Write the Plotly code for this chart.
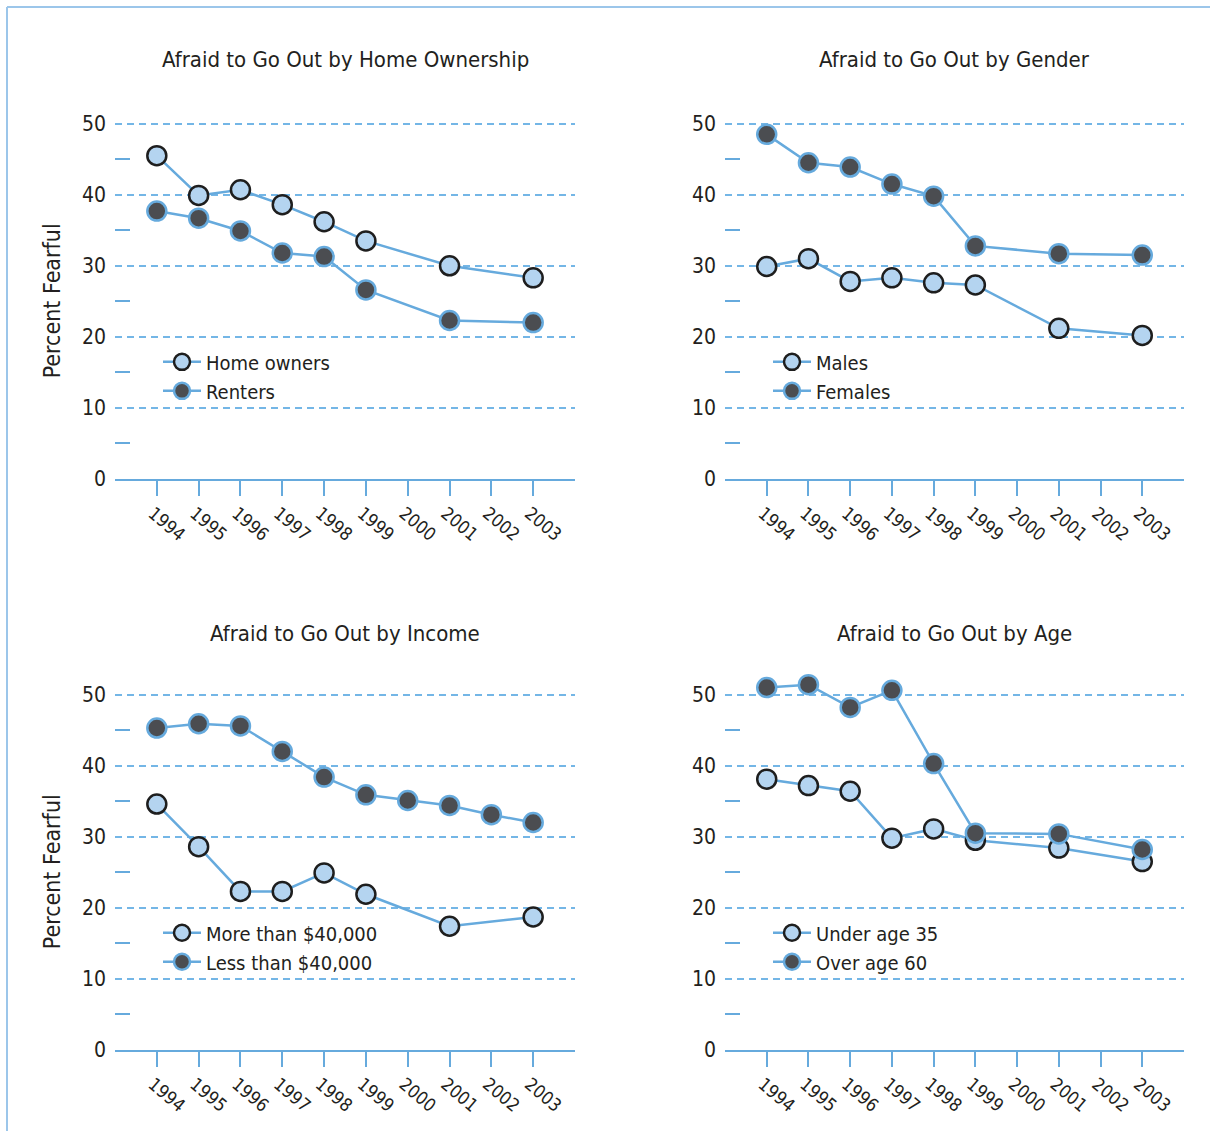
import plotly.graph_objects as go

W, H = 1210, 1143

years8 = [1994, 1995, 1996, 1997, 1998, 1999, 2001, 2003]
years10 = [1994, 1995, 1996, 1997, 1998, 1999, 2000, 2001, 2002, 2003]
tick_years = [1994, 1995, 1996, 1997, 1998, 1999, 2000, 2001, 2002, 2003]

home_owners = [45.5, 39.9, 40.7, 38.6, 36.2, 33.5, 30.0, 28.3]
renters = [37.7, 36.7, 34.9, 31.8, 31.3, 26.6, 22.3, 22.0]

males = [29.9, 31.0, 27.8, 28.3, 27.6, 27.3, 21.2, 20.2]
females = [48.5, 44.5, 43.9, 41.5, 39.8, 32.8, 31.7, 31.5]

more_40k = [34.6, 28.6, 22.3, 22.3, 24.9, 21.9, 17.4, 18.7]
less_40k = [45.3, 45.9, 45.6, 42.0, 38.4, 35.9, 35.1, 34.4, 33.1, 32.0]

under_35 = [38.1, 37.2, 36.4, 29.8, 31.1, 29.5, 28.4, 26.5]
over_60 = [51.0, 51.4, 48.2, 50.6, 40.3, 30.5, 30.4, 28.2]

titles = ["Afraid to Go Out by Home Ownership", "Afraid to Go Out by Gender",
          "Afraid to Go Out by Income", "Afraid to Go Out by Age"]
y_title = "Percent Fearful"

BLUE = "#66AADD"
GRID = "#74B6E6"
LIGHT = "#B4D4F0"
DARK = "#4B4D51"
OUTLINE = "#1E1E1E"
TXT = "#231F20"
FONT = "DejaVu Sans Condensed, Liberation Sans Narrow, sans-serif"

YMAX = 53.0
PX_PER_UNIT = (484 - 125) / 50.0

# panel geometry in pixels: (x_left, x_right, y_of_50, y_of_0, title_y, legend_top)
panels = [(115, 575, 125, 484, 60, 346), (725, 1184, 125, 484, 60, 346),
          (115, 575, 702, 1061, 640, 923), (725, 1184, 702, 1061, 640, 923)]

series = [
    (years8, home_owners, "Home owners", years8, renters, "Renters"),
    (years8, males, "Males", years8, females, "Females"),
    (years8, more_40k, "More than $40,000", years10, less_40k, "Less than $40,000"),
    (years8, under_35, "Under age 35", years8, over_60, "Over age 60"),
]

fig = go.Figure()
layout = dict(width=W, height=H, margin=dict(l=0, r=0, t=0, b=0, pad=0),
              paper_bgcolor="white", plot_bgcolor="white", showlegend=True,
              font=dict(family=FONT, color=TXT))
annotations = []

for i, (pan, ser) in enumerate(zip(panels, series)):
    n = "" if i == 0 else str(i + 1)
    xl, xr, y50, y0, ty, ltop = pan
    ytop = y0 - YMAX * PX_PER_UNIT
    lg = "legend" if i == 0 else "legend" + str(i + 1)
    xa, ya = "x" + n, "y" + n
    x1, v1, n1, x2, v2, n2 = ser
    fig.add_trace(go.Scatter(
        x=x1, y=v1, name=n1, mode="lines+markers", xaxis=xa, yaxis=ya,
        legend=lg, cliponaxis=False,
        line=dict(color=BLUE, width=2.5),
        marker=dict(size=19, color=LIGHT, line=dict(color=OUTLINE, width=2.5))))
    fig.add_trace(go.Scatter(
        x=x2, y=v2, name=n2, mode="lines+markers", xaxis=xa, yaxis=ya,
        legend=lg, cliponaxis=False,
        line=dict(color=BLUE, width=2.5),
        marker=dict(size=19, color=DARK, line=dict(color=BLUE, width=2.5))))

    layout["xaxis" + n] = dict(
        domain=[xl / W, xr / W], range=[1993, 2004], anchor=ya,
        tickmode="array", tickvals=tick_years, ticktext=[str(t) for t in tick_years],
        showgrid=False, zeroline=False, showline=True, linecolor=BLUE, linewidth=2,
        ticks="outside", ticklen=15, tickwidth=1.5, tickcolor=BLUE,
        tickangle=40, tickfont=dict(size=18, color=TXT, family=FONT),
        ticklabelshift=-4, fixedrange=True)
    layout["yaxis" + n] = dict(
        domain=[1 - y0 / H, 1 - ytop / H], range=[0, YMAX], anchor=xa,
        tickmode="linear", tick0=0, dtick=10,
        showgrid=True, gridcolor=GRID, gridwidth=1.5, griddash="7px,5px",
        zeroline=False, showline=False, ticks="",
        minor=dict(dtick=5, ticks="inside", ticklen=15, tickwidth=1.5,
                   tickcolor=BLUE, showgrid=False),
        tickfont=dict(size=21, color=TXT, family=FONT), ticklabelstandoff=8,
        fixedrange=True)

    layout[lg] = dict(x=(xl + 43) / W, y=1 - ltop / H, xanchor="left", yanchor="top",
                      bgcolor="rgba(0,0,0,0)", font=dict(size=20, color=TXT, family=FONT),
                      itemsizing="trace", itemwidth=38, tracegroupgap=0)

    annotations.append(dict(text=titles[i], x=(xl + xr) / 2 / W, y=1 - ty / H,
                            xref="paper", yref="paper", xanchor="center", yanchor="middle",
                            showarrow=False, font=dict(size=22, color=TXT, family=FONT)))
    if i in (0, 2):
        annotations.append(dict(text=y_title, x=52 / W, y=1 - (y50 + y0) / 2 / H,
                                xref="paper", yref="paper", xanchor="center", yanchor="middle",
                                textangle=-90, showarrow=False,
                                font=dict(size=23, color=TXT, family=FONT)))

layout["annotations"] = annotations
layout["shapes"] = [
    dict(type="line", xref="paper", yref="paper", x0=7 / W, x1=7 / W, y0=0, y1=1 - 7 / H,
         line=dict(color="#9CC6EA", width=2)),
    dict(type="line", xref="paper", yref="paper", x0=7 / W, x1=1, y0=1 - 7 / H, y1=1 - 7 / H,
         line=dict(color="#9CC6EA", width=2)),
]
fig.update_layout(**layout)
fig.write_html("out.html", config={"displayModeBar": False},
               post_script="document.body.style.margin='0px';document.body.style.overflow='hidden';")
